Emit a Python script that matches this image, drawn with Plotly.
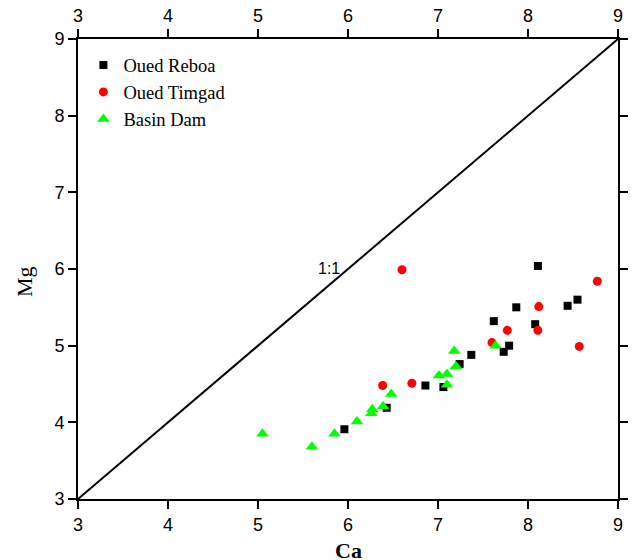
import plotly.graph_objects as go

# Data
reboa_ca = [5.96, 6.43, 6.86, 7.06, 7.24, 7.37, 7.62, 7.73, 7.79, 7.87, 8.08, 8.11, 8.44, 8.55]
reboa_mg = [3.91, 4.19, 4.48, 4.46, 4.76, 4.88, 5.32, 4.92, 5.00, 5.50, 5.28, 6.04, 5.52, 5.60]

timgad_ca = [6.385, 6.60, 6.71, 7.60, 7.77, 8.11, 8.12, 8.57, 8.77]
timgad_mg = [4.48, 5.99, 4.51, 5.04, 5.20, 5.20, 5.51, 4.99, 5.84]

dam_ca = [5.05, 5.60, 5.85, 6.10, 6.26, 6.27, 6.39, 6.48, 7.01, 7.10, 7.10, 7.18, 7.20, 7.64]
dam_mg = [3.85, 3.68, 3.85, 4.01, 4.12, 4.17, 4.21, 4.37, 4.61, 4.63, 4.49, 4.93, 4.73, 5.00]

line_x = [3, 9]
line_y = [3, 9]

tick_vals = [3, 4, 5, 6, 7, 8, 9]
axis_range = [3, 9]

tick_font = dict(family="Liberation Sans, Arial", size=18, color="black")
serif = "Liberation Serif, Times New Roman"

fig = go.Figure()
fig.add_trace(go.Scatter(x=line_x, y=line_y, mode="lines",
                         line=dict(color="black", width=2), showlegend=False, hoverinfo="skip"))
fig.add_trace(go.Scatter(x=reboa_ca, y=reboa_mg, mode="markers", name="Oued Reboa",
                         marker=dict(symbol="square", size=8, color="black")))
fig.add_trace(go.Scatter(x=timgad_ca, y=timgad_mg, mode="markers", name="Oued Timgad",
                         marker=dict(symbol="circle", size=9, color="#ff0000")))
fig.add_trace(go.Scatter(x=dam_ca, y=dam_mg, mode="markers", name="Basin Dam",
                         marker=dict(symbol="triangle-up", size=11, color="#00ff00")))

axis_common = dict(range=axis_range, tickvals=tick_vals, ticks="outside", ticklen=8,
                   tickwidth=2, tickcolor="black", showline=True, linecolor="black",
                   linewidth=2, showgrid=False, zeroline=False, tickfont=tick_font)

fig.update_layout(
    width=638, height=560,
    margin=dict(l=70, r=28, t=31, b=69, autoexpand=False),
    plot_bgcolor="white", paper_bgcolor="white",
    xaxis=dict(**axis_common, side="bottom", anchor="y"),
    yaxis=dict(**axis_common, side="left", anchor="x"),
    xaxis2=dict(**axis_common, side="top", overlaying="x", anchor="y"),
    yaxis2=dict(**axis_common, side="right", overlaying="y", anchor="x"),
    showlegend=True,
    legend=dict(x=0.01, y=0.984, xanchor="left", yanchor="top",
                font=dict(family=serif, size=18.5, color="black"),
                bgcolor="rgba(0,0,0,0)", borderwidth=0, tracegroupgap=0),
    annotations=[
        dict(text="1:1", x=5.79, y=6.01, xref="x", yref="y", showarrow=False,
             font=dict(family="Liberation Sans, Arial", size=16, color="black")),
        dict(text="<b>Ca</b>", x=0.5, y=-0.111, xref="paper", yref="paper", showarrow=False,
             yanchor="middle", font=dict(family=serif, size=22, color="black")),
        dict(text="Mg", x=-0.098, y=0.472, xref="paper", yref="paper", showarrow=False,
             textangle=-90, xanchor="center", yanchor="middle",
             font=dict(family=serif, size=22, color="black")),
    ],
)
# empty trace so the top/right axes are drawn
fig.add_trace(go.Scatter(x=[], y=[], xaxis="x2", yaxis="y2", showlegend=False, hoverinfo="skip"))

fig.write_html("out.html")
